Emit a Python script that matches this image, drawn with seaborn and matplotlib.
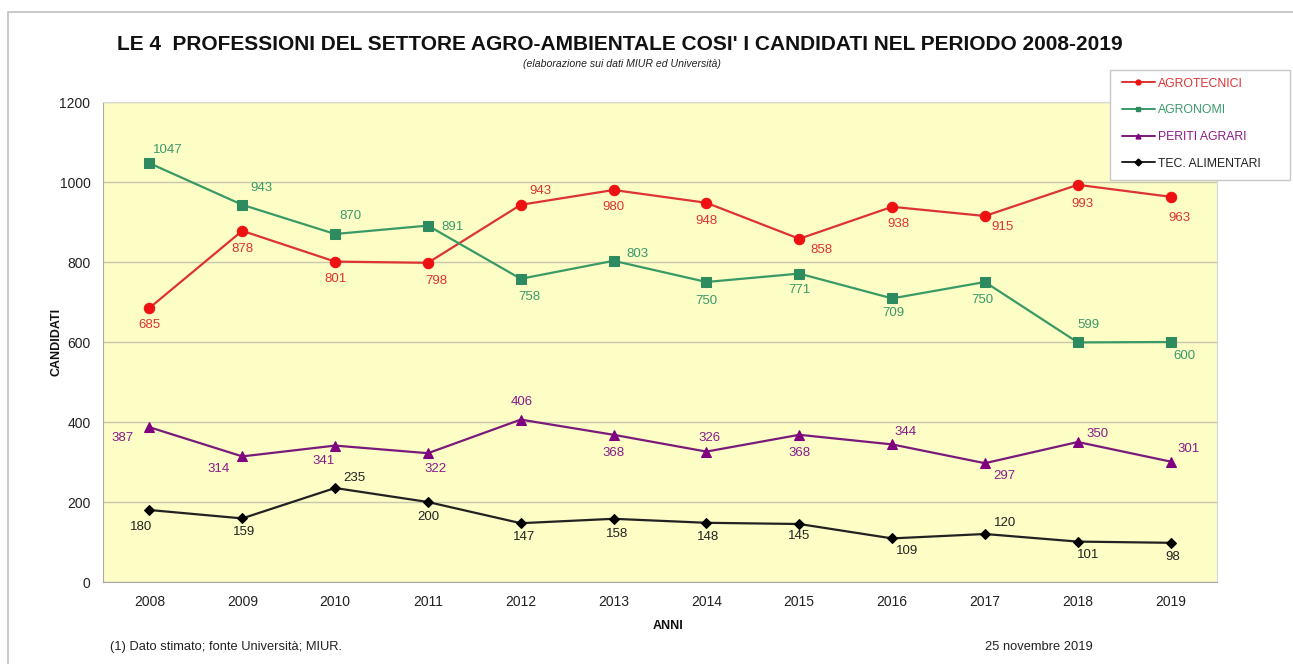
import pandas as pd
import numpy as np
import matplotlib
matplotlib.use('Agg')
import matplotlib.pyplot as plt
import seaborn as sns
from matplotlib.lines import Line2D
from matplotlib.patches import Rectangle

# dati
anni = [2008, 2009, 2010, 2011, 2012, 2013, 2014, 2015, 2016, 2017, 2018, 2019]
agrotecnici = [685, 878, 801, 798, 943, 980, 948, 858, 938, 915, 993, 963]
agronomi = [1047, 943, 870, 891, 758, 803, 750, 771, 709, 750, 599, 600]
periti_agrari = [387, 314, 341, 322, 406, 368, 326, 368, 344, 297, 350, 301]
tec_alimentari = [180, 159, 235, 200, 147, 158, 148, 145, 109, 120, 101, 98]
serie = ['AGROTECNICI', 'AGRONOMI', 'PERITI AGRARI', 'TEC. ALIMENTARI']

df = pd.DataFrame({
    'anno': anni * 4,
    'valore': agrotecnici + agronomi + periti_agrari + tec_alimentari,
    'serie': [s for s in serie for _ in anni],
})

# stile
colori = {'AGROTECNICI': '#ee1111', 'AGRONOMI': '#2e8b5f',
          'PERITI AGRARI': '#800080', 'TEC. ALIMENTARI': '#000000'}
col_linee = {'AGROTECNICI': '#dd3333', 'AGRONOMI': '#3a9a66',
             'PERITI AGRARI': '#7a1a7a', 'TEC. ALIMENTARI': '#222222'}
col_testo = {'AGROTECNICI': '#dd3333', 'AGRONOMI': '#3a9a6a',
             'PERITI AGRARI': '#8a1a8a', 'TEC. ALIMENTARI': '#222222'}
marker = {'AGROTECNICI': 'o', 'AGRONOMI': 's', 'PERITI AGRARI': '^', 'TEC. ALIMENTARI': 'D'}
msize = {'AGROTECNICI': 7.5, 'AGRONOMI': 7, 'PERITI AGRARI': 7, 'TEC. ALIMENTARI': 5.5}

# spostamento etichette (pixel, dx, dy verso l'alto)
spost = {
    'AGROTECNICI': [(0, -17), (0, -18), (0, -17), (8, -18), (20, 14), (0, -17),
                    (0, -18), (22, -11), (6, -17), (18, -11), (5, -19), (9, -21)],
    'AGRONOMI': [(18, 13), (19, 17), (15, 18), (25, -1), (9, -18), (24, 7),
                 (0, -19), (0, -16), (1, -15), (-3, -18), (11, 17), (14, -14)],
    'PERITI AGRARI': [(-27, -11), (-24, -13), (-12, -15), (8, -16), (1, 18), (0, -18),
                      (3, 14), (0, -18), (13, 12), (19, -13), (20, 8), (18, 13)],
    'TEC. ALIMENTARI': [(-8, -17), (2, -14), (19, 10), (0, -15), (3, -14), (3, -15),
                        (2, -14), (0, -12), (15, -13), (20, 11), (10, -13), (2, -14)],
}

sns.set_style('white')
plt.rcParams['font.family'] = ['Liberation Sans', 'DejaVu Sans']

W, H = 1293, 664
fig = plt.figure(figsize=(W / 100, H / 100), dpi=100)
# cornice grigia
fig.patches.append(Rectangle((8 / W, -0.1), 1.2, 1.1 - 12 / H,
                             transform=fig.transFigure, fill=False,
                             edgecolor='#c0c0c0', linewidth=1.2))

ax = fig.add_axes([103 / W, 1 - 582 / H, (1217 - 103) / W, (582 - 102) / H])
ax.set_facecolor('#fdfdc6')

for s in serie:
    sub = df[df['serie'] == s]
    sns.lineplot(data=sub, x='anno', y='valore', ax=ax, color=col_linee[s],
                 marker=marker[s], markersize=msize[s], markerfacecolor=colori[s],
                 markeredgecolor=colori[s], linewidth=1.6, legend=False, zorder=3)
    for (x, y), (dx, dy) in zip(zip(sub['anno'], sub['valore']), spost[s]):
        ax.annotate(str(y), (x, y), xytext=(dx * 0.72, dy * 0.72), textcoords='offset points',
                    ha='center', va='center', fontsize=9.5, color=col_testo[s])

ax.set_xlim(anni[0] - 0.5, anni[-1] + 0.5)
ax.set_ylim(0, 1200)
ax.set_yticks(range(0, 1201, 200))
ax.set_xticks(anni)
ax.set_xticks(np.arange(anni[0] - 0.5, anni[-1] + 1, 1), minor=True)
ax.tick_params(axis='x', which='major', length=0, pad=9, labelsize=10, labelcolor='#222222')
ax.tick_params(axis='x', which='minor', length=5, color='#a0a0a0', direction='out')
ax.tick_params(axis='y', length=5, color='#a0a0a0', direction='out', labelsize=10,
               labelcolor='#222222', pad=4)
ax.grid(axis='y', color='#c8c8b0', linewidth=1)
ax.set_axisbelow(True)
for side in ['top', 'right']:
    ax.spines[side].set_color('#d8d8d8')
for side in ['left', 'bottom']:
    ax.spines[side].set_color('#a8a8a8')

ax.set_xlabel('ANNI', fontsize=9, fontweight='bold', color='#111111')
ax.set_ylabel('CANDIDATI', fontsize=9, fontweight='bold', color='#111111')
ax.xaxis.set_label_coords((668 - 103) / (1217 - 103), -(626 - 582) / 480)
ax.yaxis.set_label_coords((57 - 103) / (1217 - 103), 0.5)
ax.xaxis.label.set_va('center')
ax.yaxis.label.set_va('center')

fig.text(620 / W, 1 - 45 / H,
         "LE 4  PROFESSIONI DEL SETTORE AGRO-AMBIENTALE COSI' I CANDIDATI NEL PERIODO 2008-2019",
         ha='center', va='center', fontsize=15, fontweight='bold', color='#111111')
fig.text(622 / W, 1 - 64 / H, "(elaborazione sui dati MIUR ed Università)",
         ha='center', va='center', fontsize=7.6, style='italic', color='#222222')
fig.text(110 / W, 1 - 647 / H, "(1) Dato stimato; fonte Università; MIUR.",
         ha='left', va='center', fontsize=9.3, color='#222222')
fig.text(985 / W, 1 - 647 / H, "25 novembre 2019",
         ha='left', va='center', fontsize=9.3, color='#222222')

# legenda con riquadro
fig.patches.append(Rectangle((1110 / W, 1 - 180 / H), 180 / W, 110 / H,
                             transform=fig.transFigure, facecolor='white',
                             edgecolor='#c8c8c8', linewidth=1, zorder=5))
handles = [Line2D([0], [0], color=col_linee[s], marker=marker[s], markersize=3.5,
                  markerfacecolor=colori[s], markeredgecolor=colori[s], linewidth=1.4)
           for s in serie]
leg = fig.legend(handles, serie, loc='upper left', bbox_to_anchor=(1118 / W, 1 - 74 / H),
                 fontsize=8.8, frameon=False, handlelength=2.7,
                 labelspacing=1.2, borderpad=0.3, handletextpad=0.3, borderaxespad=0)
leg.set_zorder(6)
for t, s in zip(leg.get_texts(), serie):
    t.set_color(col_testo[s])

fig.savefig('out.png', dpi=100)
